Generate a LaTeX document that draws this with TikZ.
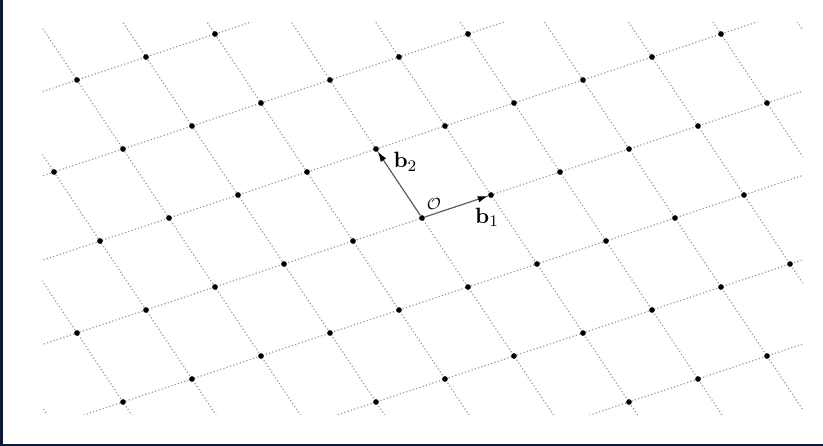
\documentclass[tikz,border=0pt]{standalone}
\usepackage{amsmath}
\usepackage{amssymb}
\usepackage{tikz}
\usetikzlibrary{arrows.meta}
\usepackage{xcolor}
\definecolor{latgrey}{HTML}{9A9A9A}
\definecolor{vecgrey}{HTML}{5A5A5A}
\definecolor{frameblue}{HTML}{0A1A3C}

\begin{document}
\begin{tikzpicture}[
    x=0.4cm, y=0.4cm,
    pt/.style={circle, fill=black, inner sep=0pt, minimum size=2.8pt},
    grd/.style={latgrey, line width=0.6pt, dash pattern=on 0.6pt off 1.1pt},
    vec/.style={-{Latex[length=5pt, width=3.2pt, color=black]}, vecgrey, line width=0.55pt},
    lbl/.style={inner sep=1pt, font=\fontsize{11}{13}\selectfont}]

  \useasboundingbox (-18.348,-9.913) rectangle (17.435,9.478);
  \fill[frameblue] (-18.348,-9.913) rectangle (-18.22,9.478);
  \fill[frameblue] (-18.348,-9.913) rectangle (17.435,-9.83);

  \begin{scope}
    \clip (-16.5,-8.55) rectangle (16.55,8.5);
    \foreach \m in {-4,...,4}
      \draw[grd] ({-2*\m-36},{3*\m-12}) -- ({-2*\m+36},{3*\m+12});
    \foreach \k in {-7,...,7}
      \draw[grd] ({3*\k+14},{\k-21}) -- ({3*\k-14},{\k+21});
  \end{scope}

  \foreach \k in {-6,...,6}{
    \foreach \m in {-4,...,4}{
      \pgfmathtruncatemacro{\X}{3*\k-2*\m}
      \pgfmathtruncatemacro{\Y}{\k+3*\m}
      \ifnum\numexpr\X*\X\relax<257 \ifnum\numexpr\Y*\Y\relax<65
        \node[pt] (p\k m\m) at (\X,\Y) {};
      \fi\fi
    }
  }

  \draw[vec] (p0m0) -- (p1m0);
  \draw[vec] (p0m0) -- (p0m1);

  \node[lbl, font=\footnotesize] (o) at (0.52,0.6) {$\mathcal{O}$};
  \node[lbl] (b1) at (2.83,0.02) {$\mathbf{b}_1$};
  \node[lbl] (b2) at (-0.72,2.44) {$\mathbf{b}_2$};
\end{tikzpicture}
\end{document}
